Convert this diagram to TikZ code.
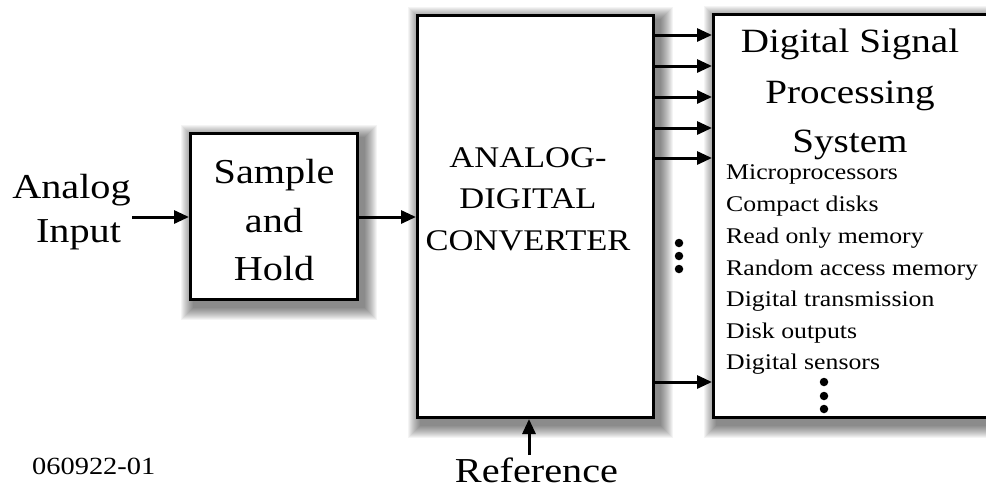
\documentclass[tikz,border=0pt]{standalone}
\usepackage{fontspec}
\setmainfont{Liberation Serif}[FakeStretch=1.15]
\usetikzlibrary{arrows.meta,backgrounds,calc}
\newcommand{\softshadow}[1]{%
  \foreach \k in {1,...,13}{%
    \fill[black, opacity=0.042]
      ([xshift={(5-\k)*1pt}, yshift={(\k-6)*1pt}]#1.north west)
      rectangle ([xshift={(5+\k)*1pt}, yshift={(-6-\k)*1pt}]#1.south east);
  }%
}
\begin{document}
\begin{tikzpicture}[x=1pt,y=-1pt,
  blk/.style={draw=black, line width=3pt, fill=white, rectangle, inner sep=0pt},
  conn/.style={line width=3pt, -{Triangle[length=15pt,width=13pt]}},
  big/.style={font=\fontsize{35}{40}\selectfont, anchor=base, inner sep=0pt},
  adcf/.style={font=\fontsize{30}{36}\selectfont, anchor=base, inner sep=0pt},
  ttl/.style={font=\fontsize{34}{40}\selectfont, anchor=base, inner sep=0pt},
  item/.style={font=\fontsize{22.4}{26}\selectfont, anchor=base west, inner sep=0pt},
  dotm/.style={circle, fill=black, minimum size=8.5pt, inner sep=0pt}]
\clip (0,0) rectangle (986,488);
% blocks
\node[blk, minimum width=167pt, minimum height=166pt] (sh) at (274,216.5) {};
\node[blk, minimum width=236pt, minimum height=402pt] (adc) at (535.5,216.5) {};
\node[blk, minimum width=296pt, minimum height=403pt] (dsp) at (861.5,216) {};
\begin{pgfonlayer}{background}
  \fill[white] (0,0) rectangle (986,488);
  \softshadow{sh}
  \softshadow{adc}
  \softshadow{dsp}
\end{pgfonlayer}
% input
\node[big] (an) at (71.5,198) {Analog};
\node[big] (in) at (78.5,242) {Input};
\coordinate (inS) at (132,217);
\draw[conn] (inS) -- (inS -| sh.west);
% sample and hold text
\node[big] (s1) at (274,183) {Sample};
\node[big] (s2) at (274,232) {and};
\node[big] (s3) at (274,280) {Hold};
\draw[conn] (sh.east |- inS) -- (adc.west |- inS);
% ADC text
\node[adcf] (a1) at (528,167) {ANALOG-};
\node[adcf] (a2) at (528,208) {DIGITAL};
\node[adcf] (a3) at (528,250) {CONVERTER};
% outputs
\foreach \yy [count=\i] in {35,66,97,128,158,382}{
  \coordinate (o\i) at (600,\yy);
  \draw[conn] (adc.east |- o\i) -- (dsp.west |- o\i);
}
\foreach \yy [count=\i] in {243,256,269}{
  \node[dotm] (d\i) at (679,\yy) {};
}
% DSP text
\node[ttl] (t1) at (850,52) {Digital Signal};
\node[ttl] (t2) at (850,103) {Processing};
\node[ttl] (t3) at (850,152) {System};
\foreach \txt/\yy [count=\i] in {Microprocessors/179, Compact disks/211, Read only memory/243, Random access memory/275, Digital transmission/306, Disk outputs/338, Digital sensors/369}{
  \node[item] (it\i) at (726,\yy) {\txt};
}
\foreach \yy [count=\i] in {382,396,409}{
  \node[dotm] (e\i) at (824,\yy) {};
}
% reference
\node[big] (ref) at (536.5,482) {Reference};
\coordinate (refS) at (529,455);
\draw[conn] (refS) -- (refS |- adc.south);
% figure code
\node[font=\fontsize{24.7}{28}\selectfont, anchor=base west, inner sep=0pt] (code) at (32,474) {060922-01};
\end{tikzpicture}
\end{document}
